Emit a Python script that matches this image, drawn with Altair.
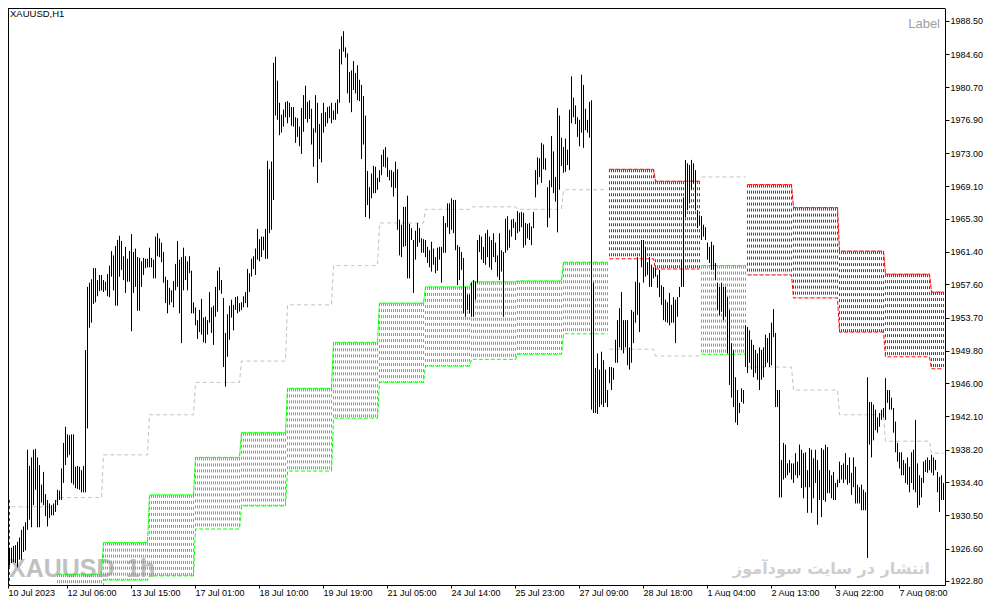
import json

import altair as alt
import pandas as pd

# hourly bars (first bar = 10 Jul 20:00)
HIGH = [
    1926.2, 1925.8, 1926.3, 1926.7, 1926.7, 1926.9, 1927.0, 1927.4, 1927.9, 1928.8,
    1929.2, 1929.7, 1938.2, 1936.3, 1937.3, 1938.2, 1938.3, 1937.3, 1936.4, 1934.1,
    1935.6, 1933.0, 1932.3, 1931.9, 1931.7, 1931.9, 1932.3, 1933.5, 1933.4, 1936.0,
    1939.0, 1940.9, 1940.0, 1939.9, 1940.0, 1940.0, 1936.2, 1936.3, 1936.2, 1935.8,
    1936.3, 1949.9, 1957.3, 1957.8, 1958.2, 1959.5, 1959.5, 1958.1, 1958.7, 1958.7,
    1958.1, 1957.9, 1958.8, 1959.8, 1961.5, 1961.0, 1962.1, 1962.8, 1963.3, 1962.7,
    1960.9, 1962.0, 1960.6, 1961.5, 1963.5, 1961.4, 1961.8, 1960.8, 1960.7, 1960.3,
    1960.7, 1960.6, 1960.6, 1961.9, 1960.7, 1960.5, 1963.2, 1963.6, 1963.0, 1962.5,
    1961.4, 1958.5, 1958.1, 1957.2, 1956.9, 1958.0, 1960.0, 1962.7, 1960.5, 1960.8,
    1961.9, 1960.9, 1960.3, 1960.9, 1959.2, 1955.5, 1954.9, 1953.4, 1954.6, 1955.9,
    1953.7, 1953.8, 1953.4, 1956.7, 1954.9, 1955.1, 1957.3, 1959.2, 1959.6, 1958.1,
    1956.0, 1951.9, 1954.1, 1955.1, 1955.8, 1955.2, 1956.1, 1956.2, 1955.4, 1955.5,
    1956.2, 1956.7, 1959.4, 1958.9, 1960.6, 1960.9, 1961.8, 1964.1, 1962.9, 1963.2,
    1963.2, 1964.1, 1972.1, 1971.1, 1972.0, 1983.6, 1984.3, 1981.5, 1978.9, 1977.5,
    1978.1, 1979.0, 1979.1, 1978.9, 1978.4, 1978.4, 1977.2, 1977.1, 1976.1, 1978.3,
    1979.8, 1980.9, 1979.0, 1979.2, 1978.2, 1975.9, 1979.8, 1978.9, 1976.4, 1977.7,
    1978.9, 1977.8, 1978.4, 1978.5, 1978.9, 1978.0, 1978.9, 1979.3, 1985.2, 1986.7,
    1987.3, 1985.4, 1984.7, 1982.5, 1982.7, 1983.8, 1982.4, 1983.3, 1981.6, 1981.0,
    1979.7, 1977.4, 1970.9, 1969.0, 1970.6, 1971.5, 1971.4, 1970.1, 1971.0, 1972.8,
    1973.4, 1973.7, 1972.5, 1971.0, 1971.0, 1970.8, 1972.0, 1971.1, 1965.2, 1964.6,
    1966.7, 1966.7, 1968.0, 1964.7, 1964.2, 1962.8, 1963.9, 1964.8, 1964.2, 1963.0,
    1962.9, 1962.8, 1962.0, 1961.6, 1962.6, 1961.8, 1960.8, 1961.9, 1962.0, 1962.0,
    1965.6, 1964.8, 1967.1, 1967.1, 1967.7, 1967.5, 1967.5, 1962.2, 1962.0, 1961.4,
    1960.7, 1957.3, 1956.4, 1956.4, 1957.8, 1958.1, 1957.9, 1962.8, 1963.4, 1963.2,
    1962.0, 1963.6, 1964.0, 1963.2, 1962.8, 1963.6, 1962.5, 1961.0, 1963.6, 1961.6,
    1961.4, 1965.3, 1965.6, 1964.0, 1965.2, 1965.3, 1964.9, 1966.2, 1966.0, 1966.1,
    1966.0, 1964.8, 1964.7, 1964.8, 1964.4, 1966.1, 1971.0, 1972.5, 1972.4, 1974.2,
    1974.0, 1972.4, 1969.0, 1969.8, 1975.0, 1973.2, 1970.2, 1978.3, 1977.4, 1974.8,
    1973.7, 1974.7, 1973.4, 1978.1, 1982.0, 1979.5, 1978.6, 1977.2, 1976.9, 1982.2,
    1981.0, 1978.2, 1976.9, 1979.0, 1979.2, 1957.8, 1947.8, 1949.5, 1947.6, 1949.7,
    1948.7, 1947.6, 1945.2, 1947.9, 1947.9, 1947.8, 1951.1, 1953.4, 1954.8, 1956.7,
    1953.4, 1953.4, 1953.4, 1950.2, 1954.6, 1954.4, 1957.9, 1960.8, 1957.8, 1962.8,
    1962.8, 1962.0, 1960.2, 1960.8, 1959.9, 1959.6, 1959.5, 1958.7, 1959.3, 1957.5,
    1957.3, 1955.8, 1955.5, 1956.6, 1955.2, 1956.1, 1955.8, 1956.1, 1957.3, 1960.5,
    1967.8, 1972.2, 1971.8, 1971.6, 1972.2, 1971.8, 1971.0, 1966.3, 1965.7, 1965.6,
    1964.6, 1964.3, 1962.5, 1962.0, 1962.6, 1962.2, 1960.1, 1957.8, 1957.3, 1957.8,
    1957.3, 1957.3, 1956.1, 1954.6, 1950.7, 1949.9, 1946.7, 1945.2, 1943.7, 1945.4,
    1945.2, 1952.8, 1952.6, 1952.2, 1951.1, 1950.5, 1949.9, 1949.5, 1950.2, 1949.9,
    1950.2, 1951.7, 1951.3, 1951.9, 1953.1, 1954.7, 1951.9, 1945.2, 1945.2, 1937.0,
    1939.0, 1938.8, 1936.6, 1937.0, 1936.6, 1936.6, 1937.8, 1936.8, 1938.8, 1938.2,
    1937.8, 1937.9, 1935.8, 1938.4, 1938.2, 1937.2, 1938.2, 1937.0, 1935.8, 1938.4,
    1938.2, 1938.8, 1938.5, 1935.8, 1935.2, 1935.6, 1934.3, 1934.7, 1936.8, 1936.4,
    1936.6, 1937.8, 1936.4, 1937.3, 1935.5, 1937.3, 1936.2, 1934.1, 1933.8, 1934.1,
    1933.5, 1933.2, 1946.7, 1943.8, 1943.8, 1943.5, 1942.9, 1942.0, 1942.5, 1942.9,
    1943.1, 1946.6, 1945.2, 1945.2, 1944.3, 1943.1, 1941.5, 1939.0, 1937.9, 1937.9,
    1937.0, 1936.6, 1937.3, 1936.2, 1937.9, 1938.2, 1941.7, 1936.6, 1935.2, 1934.9,
    1936.8, 1937.0, 1937.3, 1937.0, 1937.6, 1937.3, 1937.0, 1935.6, 1935.0, 1935.2,
    1934.3,
]
LOW = [
    1923.5, 1923.3, 1924.1, 1924.6, 1924.9, 1925.0, 1924.9, 1924.4, 1925.3, 1925.3,
    1926.2, 1926.4, 1928.8, 1930.0, 1929.1, 1931.7, 1933.5, 1929.1, 1929.1, 1932.0,
    1931.7, 1930.4, 1929.2, 1930.2, 1930.5, 1930.5, 1930.9, 1931.7, 1932.3, 1932.3,
    1934.3, 1936.4, 1937.3, 1937.6, 1934.3, 1934.1, 1933.7, 1933.6, 1933.5, 1933.2,
    1933.2, 1933.2, 1940.7, 1952.5, 1953.1, 1955.3, 1955.5, 1956.2, 1956.8, 1956.9,
    1956.7, 1956.9, 1956.2, 1956.1, 1958.5, 1956.9, 1955.1, 1955.1, 1958.5, 1959.3,
    1958.1, 1956.6, 1957.9, 1957.9, 1952.1, 1956.6, 1957.3, 1954.5, 1954.5, 1957.3,
    1958.7, 1959.5, 1959.6, 1959.6, 1959.6, 1958.3, 1958.3, 1960.9, 1960.8, 1960.2,
    1957.8, 1955.4, 1954.2, 1955.2, 1955.5, 1954.9, 1956.9, 1957.3, 1954.2, 1950.7,
    1956.9, 1958.1, 1956.9, 1958.9, 1954.2, 1954.2, 1952.8, 1951.2, 1952.0, 1951.7,
    1950.8, 1950.7, 1951.7, 1953.1, 1951.9, 1950.5, 1953.8, 1954.4, 1956.9, 1956.5,
    1947.9, 1945.6, 1949.1, 1951.1, 1953.7, 1952.2, 1954.6, 1954.2, 1954.4, 1954.6,
    1954.9, 1955.4, 1954.9, 1956.7, 1958.5, 1959.4, 1958.7, 1960.5, 1960.3, 1960.8,
    1961.6, 1960.6, 1960.6, 1963.6, 1964.0, 1967.5, 1977.4, 1976.9, 1975.1, 1975.4,
    1976.1, 1977.2, 1976.5, 1977.2, 1976.2, 1976.1, 1974.2, 1974.9, 1973.8, 1972.9,
    1975.5, 1977.0, 1976.6, 1977.0, 1974.0, 1971.4, 1975.4, 1969.5, 1972.3, 1971.9,
    1975.4, 1976.1, 1976.5, 1977.1, 1976.5, 1976.9, 1976.9, 1977.6, 1978.9, 1983.4,
    1984.9, 1984.2, 1980.0, 1978.9, 1977.8, 1980.4, 1980.0, 1979.2, 1979.1, 1972.3,
    1974.0, 1965.5, 1966.9, 1965.3, 1967.7, 1968.3, 1968.3, 1968.7, 1969.6, 1970.4,
    1971.4, 1971.3, 1970.2, 1969.8, 1969.0, 1967.9, 1968.9, 1964.0, 1961.0, 1960.8,
    1962.0, 1962.1, 1958.3, 1958.3, 1962.8, 1956.6, 1960.5, 1962.0, 1962.5, 1961.3,
    1961.3, 1960.8, 1960.1, 1959.6, 1959.1, 1959.9, 1958.9, 1959.2, 1960.5, 1957.8,
    1961.3, 1961.3, 1964.3, 1963.5, 1964.0, 1963.6, 1961.6, 1957.5, 1958.1, 1959.3,
    1954.2, 1953.8, 1954.6, 1954.2, 1953.8, 1953.8, 1955.8, 1957.8, 1961.4, 1960.5,
    1960.1, 1959.9, 1960.8, 1959.6, 1959.3, 1960.8, 1960.2, 1958.5, 1958.1, 1959.1,
    1953.8, 1961.3, 1961.6, 1961.9, 1963.2, 1964.2, 1962.8, 1963.6, 1963.8, 1964.3,
    1961.9, 1962.2, 1963.0, 1962.8, 1962.2, 1964.2, 1967.8, 1969.3, 1970.2, 1969.5,
    1971.1, 1971.0, 1964.3, 1965.4, 1969.0, 1968.3, 1967.3, 1963.7, 1968.7, 1971.5,
    1970.7, 1970.8, 1971.6, 1971.0, 1976.5, 1977.2, 1976.4, 1974.9, 1973.8, 1975.4,
    1973.6, 1975.7, 1975.4, 1974.8, 1942.9, 1942.5, 1942.5, 1942.4, 1943.2, 1943.5,
    1943.2, 1943.7, 1943.2, 1946.0, 1945.2, 1946.4, 1948.4, 1948.4, 1950.2, 1949.9,
    1949.5, 1950.2, 1948.1, 1947.6, 1948.4, 1950.7, 1953.1, 1954.0, 1952.0, 1959.6,
    1957.8, 1958.5, 1958.7, 1957.3, 1957.3, 1958.3, 1958.5, 1957.2, 1956.1, 1955.2,
    1953.4, 1953.2, 1953.1, 1952.8, 1953.1, 1953.1, 1950.7, 1953.8, 1956.1, 1957.3,
    1957.3, 1965.5, 1966.3, 1967.1, 1968.7, 1969.5, 1966.3, 1964.2, 1964.6, 1962.8,
    1963.2, 1962.8, 1960.5, 1960.1, 1959.3, 1959.3, 1958.1, 1954.6, 1954.0, 1954.4,
    1953.4, 1953.8, 1949.5, 1945.8, 1944.3, 1943.2, 1941.4, 1941.1, 1942.5, 1943.8,
    1943.6, 1947.9, 1947.2, 1948.4, 1947.6, 1946.7, 1947.2, 1946.4, 1945.2, 1946.4,
    1946.7, 1947.9, 1948.4, 1947.9, 1948.1, 1951.4, 1943.2, 1943.2, 1932.6, 1932.6,
    1934.7, 1934.9, 1935.2, 1935.5, 1934.7, 1934.3, 1935.2, 1934.9, 1935.2, 1933.7,
    1932.5, 1933.8, 1930.8, 1933.8, 1930.8, 1932.5, 1934.3, 1929.4, 1932.3, 1930.3,
    1932.3, 1932.1, 1933.1, 1933.1, 1932.5, 1932.3, 1932.3, 1933.8, 1934.3, 1934.7,
    1934.3, 1934.7, 1934.1, 1934.3, 1932.9, 1933.8, 1931.9, 1931.9, 1931.9, 1931.1,
    1931.1, 1931.1, 1925.5, 1938.8, 1937.3, 1939.3, 1940.5, 1940.2, 1940.9, 1941.7,
    1942.0, 1941.7, 1943.7, 1942.9, 1942.9, 1940.2, 1937.9, 1936.8, 1936.0, 1935.2,
    1935.2, 1934.3, 1934.1, 1933.2, 1934.3, 1933.5, 1933.2, 1931.4, 1931.7, 1932.6,
    1934.3, 1935.6, 1935.5, 1935.8, 1935.5, 1935.2, 1935.8, 1933.2, 1930.9, 1932.3,
    1932.3,
]

# one entry per trading day: first bar, box top/bottom, direction, dashed target level
DAY_START = [0, 4, 27, 50, 73, 96, 119, 142, 165, 188, 211,
             234, 257, 280, 303, 326, 349, 372, 395, 418, 441, 464]
BOX_TOP = [1932.3, None, 1923.6, 1927.3, 1932.9, 1937.3, 1940.2, 1945.4, 1950.8, 1955.4, 1957.3,
           1957.9, 1958.0, 1960.2, 1971.1, 1969.7, 1959.8, 1969.3, 1966.6, 1961.5, 1958.8, 1956.7]
BOX_BOTTOM = [1921.0, None, 1914.6, 1922.9, 1923.4, 1928.9, 1931.6, 1935.7, 1941.9, 1946.1, 1948.0,
              1948.8, 1949.4, 1951.8, 1960.6, 1959.4, 1949.4, 1958.7, 1956.0, 1952.0, 1949.1, 1947.7]
BOX_DIR = ["down", "up", "up", "up", "up", "up", "up", "up", "up", "up", "up",
           "up", "up", "up", "down", "down", "up", "down", "down", "down", "down", "down"]
TARGET = [None, 1931.5, 1932.6, 1937.6, 1942.3, 1946.1, 1948.6, 1955.2, 1959.8, 1964.8, 1966.4,
          1966.7, 1966.4, 1968.7, 1950.0, 1949.2, 1970.2, 1947.9, 1945.2, 1942.3, 1939.2, 1937.8]

X_LABELS = ["10 Jul 2023", "12 Jul 06:00", "13 Jul 15:00", "17 Jul 01:00", "18 Jul 10:00",
            "19 Jul 19:00", "21 Jul 05:00", "24 Jul 14:00", "25 Jul 23:00", "27 Jul 09:00",
            "28 Jul 18:00", "1 Aug 04:00", "2 Aug 13:00", "3 Aug 22:00", "7 Aug 08:00"]
Y_TICKS = [1988.5, 1984.6, 1980.7, 1976.9, 1973.0, 1969.1, 1965.3, 1961.4, 1957.6,
           1953.7, 1949.8, 1946.0, 1942.1, 1938.2, 1934.4, 1930.5, 1926.6, 1922.8]

SYMBOL = "XAUUSD,H1"
CORNER = "Label"
WATERMARK = "XAUUSD"
WATERMARK_TF = "1h"
SITE = "انتشار در سایت سودآموز"

W, H = 937, 577
X_DOMAIN = [2.25, 470.75]
Y_DOMAIN = [1922.33, 1990.02]
AXIS_FONT = "Liberation Sans"

bars = pd.DataFrame({"i": range(len(HIGH)), "high": HIGH, "low": LOW})

run_id = [0]
for d in range(1, len(BOX_DIR)):
    run_id.append(run_id[-1] + (BOX_DIR[d] != BOX_DIR[d - 1]))

rows = []
for d, start in enumerate(DAY_START):
    end = DAY_START[d + 1] if d + 1 < len(DAY_START) else len(HIGH)
    for i in range(start, end):
        rows.append({"i": i, "top": BOX_TOP[d], "bottom": BOX_BOTTOM[d],
                     "dir": BOX_DIR[d], "target": TARGET[d], "run": run_id[d]})
days = pd.DataFrame(rows)
boxes = days.dropna(subset=["top"])
targets = days.dropna(subset=["target"])

x_ticks = [2.25] + [32 * k - 0.25 for k in range(1, len(X_LABELS))]
x_axis = alt.Axis(orient="bottom", values=x_ticks, labelExpr=f"{json.dumps(X_LABELS)}[round(datum.value / 32)]",
                  tickSize=3, labelPadding=0, labelAlign="left", labelBaseline="top", labelFlush=False,
                  labelOverlap=False, labelBound=False, labelFont=AXIS_FONT, labelFontSize=9,
                  labelColor="black", domainColor="black", tickColor="black", grid=False, title=None)
y_axis = alt.Axis(orient="right", values=Y_TICKS, format=".2f", tickSize=4, labelPadding=1,
                  labelOverlap=False, labelFlush=False, labelFont=AXIS_FONT, labelFontSize=9,
                  labelColor="black", domainColor="black", tickColor="black", grid=False, title=None)

x_scale = alt.Scale(domain=X_DOMAIN, nice=False, zero=False)
y_scale = alt.Scale(domain=Y_DOMAIN, nice=False, zero=False)
x_enc = alt.X("i:Q", scale=x_scale, axis=x_axis)

def y_enc(field):
    return alt.Y(f"{field}:Q", scale=y_scale, axis=y_axis)

dir_color = alt.Color("dir:N", scale=alt.Scale(domain=["up", "down"], range=["#00FF00", "#FF0000"]),
                      legend=None)

one = pd.DataFrame({"t": [0]})

def text_layer(value, **kw):
    return alt.Chart(pd.DataFrame({"t": [value]})).mark_text(**kw).encode(text="t:N")

wm = text_layer(WATERMARK, align="left", baseline="alphabetic", font="Liberation Sans",
                fontWeight="bold", fontSize=25, color="#C0C0C0").encode(x=alt.value(1), y=alt.value(569))
wm_tf = text_layer(WATERMARK_TF, align="left", baseline="alphabetic", font="Liberation Sans",
                   fontWeight="bold", fontSize=25, color="#C0C0C0").encode(x=alt.value(118), y=alt.value(569))
site = text_layer(SITE, align="right", baseline="alphabetic", font="DejaVu Sans", fontWeight="bold",
                  fontSize=16, color="#CFCFCF").encode(x=alt.value(922), y=alt.value(566))

hatch = alt.Chart(boxes).mark_rule(strokeWidth=1, strokeDash=[3, 3], clip=True).encode(
    x=x_enc, y=y_enc("top"), y2="bottom:Q", color=dir_color)
edge_top = alt.Chart(boxes).mark_line(strokeWidth=1, strokeDash=[5, 1], clip=True).encode(
    x=x_enc, y=y_enc("top"), color=dir_color, detail="run:N")
edge_bottom = alt.Chart(boxes).mark_line(strokeWidth=1, strokeDash=[4, 2], clip=True).encode(
    x=x_enc, y=y_enc("bottom"), color=dir_color, detail="run:N")
target = alt.Chart(targets).mark_line(strokeWidth=1, strokeDash=[4, 3], color="#C0C0C0", clip=True).encode(
    x=x_enc, y=y_enc("target"), detail="run:N")

price = alt.Chart(bars).mark_rule(color="black", strokeWidth=1, clip=True).encode(
    x=x_enc, y=y_enc("high"), y2="low:Q")

frame_left = alt.Chart(one).mark_rule(color="black", strokeWidth=1).encode(
    x=alt.value(0.5), y=alt.value(0), y2=alt.value(H))
frame_top = alt.Chart(one).mark_rule(color="black", strokeWidth=1).encode(
    y=alt.value(0.5), x=alt.value(0), x2=alt.value(W))

symbol = text_layer(SYMBOL, align="left", baseline="top", font=AXIS_FONT, fontSize=9.5,
                    color="black").encode(x=alt.value(2), y=alt.value(1))
corner = text_layer(CORNER, align="right", baseline="alphabetic", font=AXIS_FONT, fontSize=13,
                    color="#A0A0A0").encode(x=alt.value(932), y=alt.value(20))

chart = alt.layer(
    wm, wm_tf, site, hatch, edge_top, edge_bottom, target, price, frame_left, frame_top, symbol, corner
).properties(
    width=W, height=H, background="white",
    autosize=alt.AutoSizeParams(type="none"),
    padding={"left": 0, "top": 0, "right": 38, "bottom": 12},
).configure_view(stroke=None)

chart.save("out.html", embed_options={"renderer": "svg", "actions": False})
